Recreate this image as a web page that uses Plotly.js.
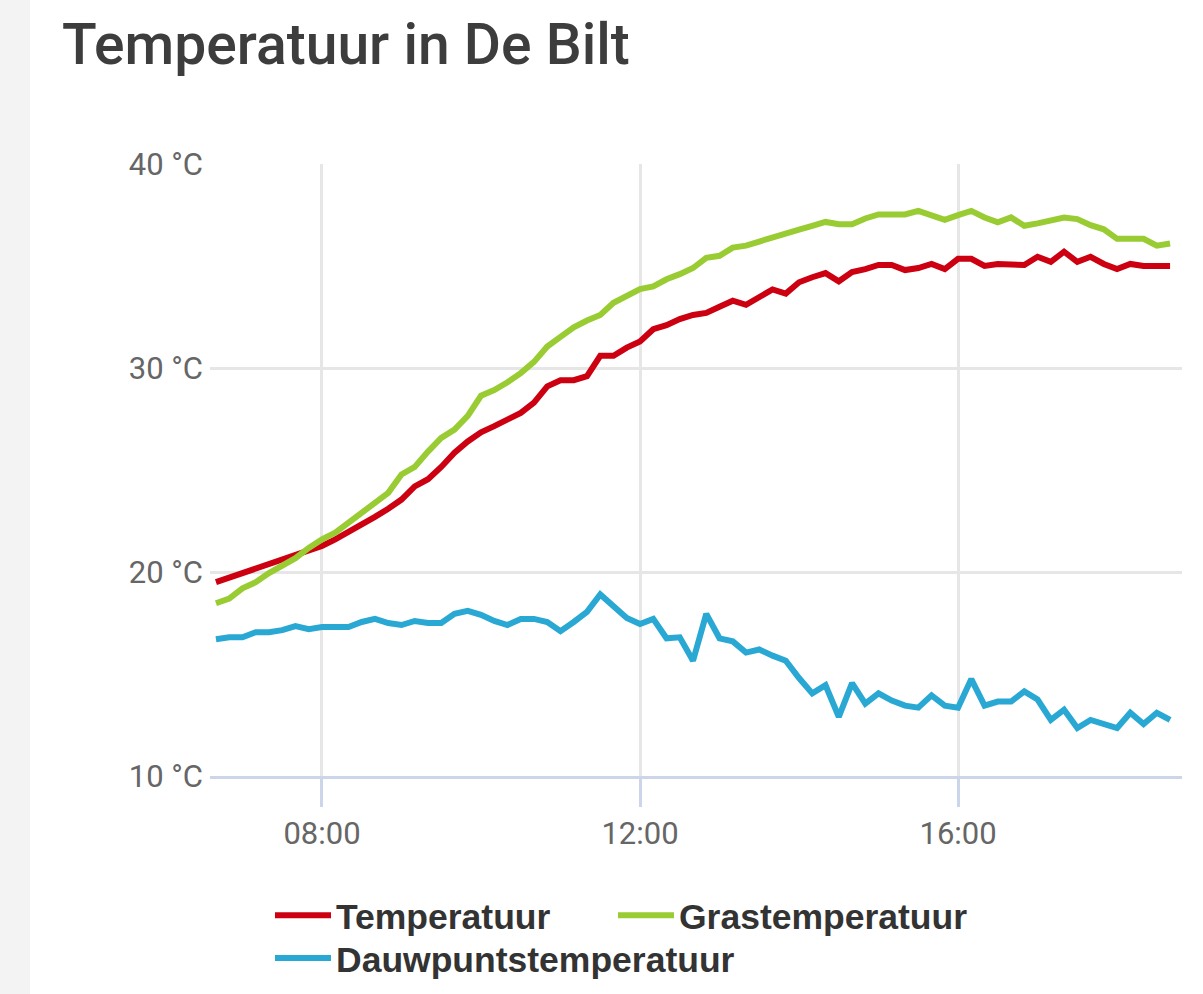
<!DOCTYPE html>
<html>
<head>
<meta charset="utf-8">
<script src="https://cdn.plot.ly/plotly-3.0.1.min.js"></script>
<style>
  html, body { margin: 0; padding: 0; }
  body { width: 1203px; height: 994px; overflow: hidden;
         background: linear-gradient(to right, #f3f3f3 0px, #f3f3f3 30px, #ffffff 30px); }
  #chart { width: 1203px; height: 994px; }
</style>
</head>
<body>
<div id="chart"></div>
<script>
const day = '2019-07-25';
const times = ['06:40','06:50','07:00','07:10','07:20','07:30','07:40','07:50',
  '08:00','08:10','08:20','08:30','08:40','08:50','09:00','09:10','09:20','09:30','09:40','09:50',
  '10:00','10:10','10:20','10:30','10:40','10:50','11:00','11:10','11:20','11:30','11:40','11:50',
  '12:00','12:10','12:20','12:30','12:40','12:50','13:00','13:10','13:20','13:30','13:40','13:50',
  '14:00','14:10','14:20','14:30','14:40','14:50','15:00','15:10','15:20','15:30','15:40','15:50',
  '16:00','16:10','16:20','16:30','16:40','16:50','17:00','17:10','17:20','17:30','17:40','17:50',
  '18:00','18:10','18:20','18:30','18:40'];

const temperatuur = [19.5,19.72,19.95,20.15,20.35,20.58,20.8,21.0,21.28,21.6,
  21.95,22.3,22.7,23.1,23.55,24.2,24.55,25.15,25.85,26.4,
  26.85,27.15,27.45,27.8,28.3,29.1,29.4,29.4,29.6,30.6,
  30.6,31.0,31.3,31.9,32.1,32.4,32.6,32.7,33.0,33.3,
  33.1,33.5,33.85,33.65,34.2,34.45,34.65,34.25,34.7,34.85,
  35.05,35.05,34.8,34.9,35.1,34.85,35.35,35.35,35.0,35.1,
  35.05,35.05,35.45,35.2,35.7,35.2,35.45,35.1,34.85,35.1,
  35.0,35.0,35.0];

const grastemperatuur = [18.47,18.7,19.2,19.5,19.95,20.35,20.68,21.18,21.6,21.93,
  22.42,22.95,23.38,23.88,24.78,25.15,25.9,26.57,26.98,27.65,
  28.64,28.92,29.3,29.75,30.3,31.05,31.53,32.0,32.33,32.6,
  33.2,33.5,33.87,34.0,34.35,34.6,34.9,35.4,35.5,35.9,
  36.0,36.2,36.4,36.65,36.78,36.97,37.16,37.05,37.05,37.33,
  37.53,37.53,37.53,37.7,37.49,37.26,37.49,37.7,37.38,37.14,
  37.38,36.97,37.09,37.21,37.38,37.3,37.0,36.8,36.33,36.33,
  36.33,36.0,36.1];

const dauwpunt = [16.7,16.8,16.8,17.05,17.05,17.15,17.35,17.2,17.3,17.3,
  17.3,17.55,17.7,17.5,17.4,17.6,17.5,17.5,17.95,18.1,
  17.9,17.6,17.4,17.7,17.7,17.55,17.1,17.55,18.05,18.9,
  18.35,17.75,17.45,17.7,16.75,16.8,15.65,17.95,16.75,16.6,
  16.05,16.2,15.9,15.65,14.8,14.05,14.45,12.9,14.55,13.55,
  14.05,13.7,13.45,13.35,13.95,13.45,13.35,14.75,13.45,13.65,
  13.65,14.15,13.75,12.75,13.25,12.35,12.75,12.55,12.35,13.1,
  12.55,13.1,12.75];

const seriesNames = ['Temperatuur', 'Grastemperatuur', 'Dauwpuntstemperatuur'];
const seriesColors = ['#cc0011', '#99cc33', '#29a8d4'];
const seriesValues = [temperatuur, grastemperatuur, dauwpunt];
const seriesLegends = ['legend', 'legend2', 'legend3'];

const x = times.map(t => day + ' ' + t);

const traces = seriesValues.map((vals, k) => ({
  type: 'scatter',
  mode: 'lines',
  name: seriesNames[k],
  legend: seriesLegends[k],
  x: x,
  y: vals,
  line: { color: seriesColors[k], width: 6, shape: 'linear' },
  hoverinfo: 'skip'
}));

const legendBase = {
  orientation: 'v',
  xanchor: 'left',
  yanchor: 'middle',
  itemwidth: 56,
  borderwidth: 0,
  font: { family: 'Liberation Sans', size: 35.5, weight: 'bold', color: '#333333' },
  bgcolor: 'rgba(0,0,0,0)'
};

const layout = {
  width: 1203,
  height: 994,
  paper_bgcolor: 'rgba(0,0,0,0)',
  plot_bgcolor: '#ffffff',
  margin: { l: 210, r: 21, t: 164, b: 218, pad: 0, autoexpand: false },
  title: {
    text: 'Temperatuur in De Bilt',
    font: { family: 'Roboto', size: 57, weight: 500, color: '#3d3d3d' },
    xref: 'container', yref: 'container',
    x: 62 / 1203, xanchor: 'left',
    y: 1 - 44 / 994, yanchor: 'middle'
  },
  xaxis: {
    type: 'date',
    range: [day + ' 06:35:30', day + ' 18:49:00'],
    tick0: day + ' 00:00',
    dtick: 4 * 3600 * 1000,
    tickformat: '%H:%M',
    showgrid: true,
    gridcolor: '#e6e6e6',
    gridwidth: 3,
    showline: true,
    linecolor: '#ccd6eb',
    linewidth: 3,
    ticks: 'outside',
    ticklen: 28,
    tickwidth: 3,
    tickcolor: '#ccd6eb',
    zeroline: false,
    automargin: false,
    tickfont: { family: 'Roboto', size: 31, color: '#666666' },
    fixedrange: true
  },
  yaxis: {
    range: [10, 40],
    dtick: 10,
    tick0: 0,
    ticksuffix: ' °C',
    showgrid: true,
    gridcolor: '#e6e6e6',
    gridwidth: 3,
    showline: false,
    zeroline: false,
    ticks: '',
    ticklabelstandoff: 6,
    automargin: false,
    tickfont: { family: 'Roboto', size: 31, color: '#666666' },
    fixedrange: true
  },
  showlegend: true,
  legend:  Object.assign({}, legendBase, { x: (270 - 210) / 972, y: -(915.7 - 776) / 612 }),
  legend2: Object.assign({}, legendBase, { x: (613 - 210) / 972, y: -(915.7 - 776) / 612 }),
  legend3: Object.assign({}, legendBase, { x: (270 - 210) / 972, y: -(958.5 - 776) / 612 })
};

Plotly.newPlot('chart', traces, layout, { displayModeBar: false, staticPlot: true });
</script>
</body>
</html>
